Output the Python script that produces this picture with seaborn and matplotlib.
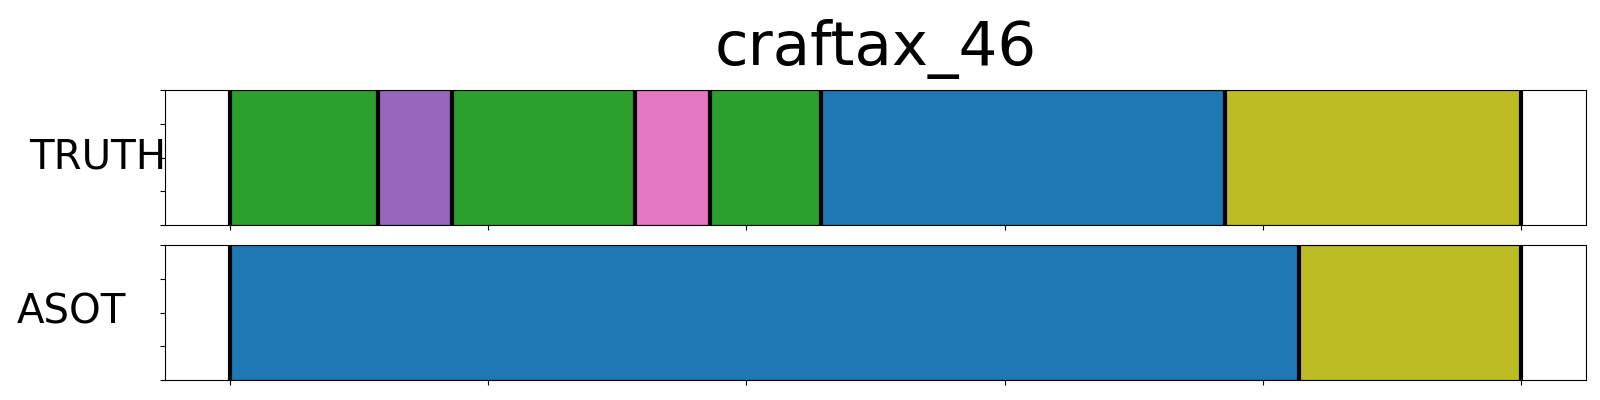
import matplotlib
matplotlib.use("Agg")
import matplotlib.pyplot as plt
import seaborn as sns
import numpy as np

# ---- data ----
title = "craftax_46"
row_names = ["TRUTH", "ASOT"]
truth_bounds = [0, 115, 172, 314, 372, 458, 771, 1000]
truth_classes = [2, 4, 2, 6, 2, 0, 8]
asot_bounds = [0, 828, 1000]
asot_classes = [0, 8]
x_ticks = [0, 200, 400, 600, 800, 1000]

sns.set_style("white")
plt.rcParams["font.family"] = ["DejaVu Sans"]
plt.rcParams["text.color"] = "black"
plt.rcParams["axes.labelcolor"] = "black"
palette = sns.color_palette("tab10")

fig = plt.figure(figsize=(16, 4), dpi=100)
ax1 = fig.add_axes([0.1031, 0.4375, 0.888, 0.3375])
ax2 = fig.add_axes([0.1031, 0.05, 0.888, 0.3375])

label_x = [-0.0475, -0.0662]

for ax, name, bounds, classes, lx in zip([ax1, ax2], row_names,
                                        [truth_bounds, asot_bounds],
                                        [truth_classes, asot_classes], label_x):
    starts = np.array(bounds[:-1])
    widths = np.diff(bounds)
    cols = [palette[c] for c in classes]
    ax.barh(y=[0.5] * len(starts), width=widths, left=starts, height=1.0,
            color=cols, edgecolor=(0, 0, 0, 0.25), linewidth=1.0)
    for b in bounds:
        ax.axvline(b, color="black", linewidth=3.0, zorder=3)
    ax.set_xlim(-50, 1050)
    ax.set_ylim(0, 1)
    ax.set_xticks(x_ticks)
    ax.set_xticklabels([])
    ax.set_yticks(np.linspace(0, 1, 5))
    ax.set_yticklabels([])
    ax.tick_params(axis="both", which="both", direction="out", length=3.5,
                   width=0.8, color="black", bottom=True, left=True)
    for s in ax.spines.values():
        s.set_color("black")
        s.set_linewidth(0.8)
        s.set_visible(True)
    ax.set_ylabel(name, rotation=0, fontsize=29, ha="center", va="center",
                  color="black")
    ax.yaxis.set_label_coords(lx, 0.5)

ax1.set_title(title, fontsize=44, pad=18, color="black")

fig.savefig("out.png", dpi=100)
